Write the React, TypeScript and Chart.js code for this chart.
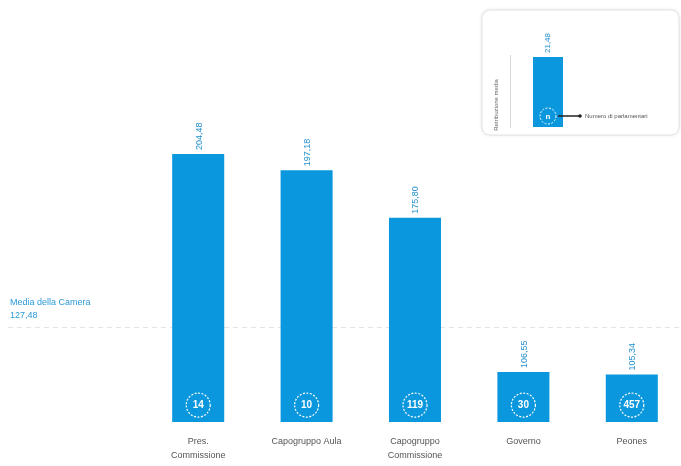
import React, { useEffect, useRef } from "react";
import { Chart, registerables } from "chart.js";

Chart.register(...registerables);

const categories: string[][] = [
  ["Pres.", "Commissione"],
  ["Capogruppo Aula"],
  ["Capogruppo", "Commissione"],
  ["Governo"],
  ["Peones"],
];
const values: number[] = [204.48, 197.18, 175.8, 106.55, 105.34];
const counts: number[] = [14, 10, 119, 30, 457];
const meanValue = 127.48;
const meanLabel = ["Media della Camera", "127,48"];
const legendTexts = { axis: "Retribuzione media", value: "21,48", count: "n", countText: "Numero di parlamentari" };

const BLUE = "#0a97dd";
const FONT = "'Liberation Sans', Arial, sans-serif";

const fmt = (v: number) => v.toFixed(2).replace(".", ",");

const overlay = {
  id: "overlay",
  beforeDatasetsDraw(chart: any) {
    const ctx = chart.ctx;
    const y = chart.scales.y;
    const area = chart.chartArea;
    ctx.save();
    const my = Math.round(y.getPixelForValue(meanValue)) + 2;
    ctx.strokeStyle = "rgba(205,205,205,0.55)";
    ctx.lineWidth = 1;
    ctx.setLineDash([5, 4]);
    ctx.beginPath();
    ctx.moveTo(8, my + 0.5);
    ctx.lineTo(area.right, my + 0.5);
    ctx.stroke();
    ctx.setLineDash([]);
    ctx.fillStyle = "#2a9ad8";
    ctx.font = "9px " + FONT;
    ctx.textAlign = "left";
    ctx.textBaseline = "alphabetic";
    ctx.fillText(meanLabel[0], 10, my - 22);
    ctx.fillText(meanLabel[1], 10, my - 9);
    ctx.restore();
  },
  afterDatasetsDraw(chart: any) {
    const ctx = chart.ctx;
    const meta = chart.getDatasetMeta(0);
    const y = chart.scales.y;
    const basePx = y.getPixelForValue(y.min);
    ctx.save();
    meta.data.forEach((bar: any, i: number) => {
      ctx.save();
      ctx.translate(bar.x + 1, bar.y - 4);
      ctx.rotate(-Math.PI / 2);
      ctx.fillStyle = "#1f8fcf";
      ctx.font = "9px " + FONT;
      ctx.textAlign = "left";
      ctx.textBaseline = "middle";
      ctx.fillText(fmt(values[i]), 0, 0);
      ctx.restore();
      const cy = basePx - 17;
      ctx.strokeStyle = "#ffffff";
      ctx.lineWidth = 1.2;
      ctx.setLineDash([2, 1.5]);
      ctx.beginPath();
      ctx.arc(bar.x, cy, 12, 0, Math.PI * 2);
      ctx.stroke();
      ctx.setLineDash([]);
      ctx.fillStyle = "#ffffff";
      ctx.font = "bold 10px " + FONT;
      ctx.textAlign = "center";
      ctx.textBaseline = "middle";
      ctx.fillText(String(counts[i]), bar.x, cy + 0.5);
    });

    // legend box
    const bx = 482, by = 10, bw = 197, bh = 125;
    ctx.shadowColor = "rgba(0,0,0,0.12)";
    ctx.shadowBlur = 4;
    ctx.fillStyle = "#ffffff";
    ctx.beginPath();
    (ctx as any).roundRect(bx, by, bw, bh, 8);
    ctx.fill();
    ctx.shadowBlur = 0;
    ctx.shadowColor = "transparent";
    ctx.strokeStyle = "#e2e2e2";
    ctx.lineWidth = 1;
    ctx.stroke();
    ctx.strokeStyle = "#d8d8d8";
    ctx.beginPath();
    ctx.moveTo(510.5, 55);
    ctx.lineTo(510.5, 128);
    ctx.stroke();
    ctx.save();
    ctx.translate(496, 105);
    ctx.rotate(-Math.PI / 2);
    ctx.fillStyle = "#666";
    ctx.font = "6px " + FONT;
    ctx.textAlign = "center";
    ctx.textBaseline = "middle";
    ctx.fillText(legendTexts.axis, 0, 0);
    ctx.restore();
    ctx.fillStyle = BLUE;
    ctx.fillRect(533, 57, 30, 70);
    ctx.save();
    ctx.translate(548, 53);
    ctx.rotate(-Math.PI / 2);
    ctx.fillStyle = "#1f8fcf";
    ctx.font = "8px " + FONT;
    ctx.textAlign = "left";
    ctx.textBaseline = "middle";
    ctx.fillText(legendTexts.value, 0, 0);
    ctx.restore();
    ctx.strokeStyle = "#ffffff";
    ctx.setLineDash([2, 1.5]);
    ctx.beginPath();
    ctx.arc(548, 116, 8, 0, Math.PI * 2);
    ctx.stroke();
    ctx.setLineDash([]);
    ctx.fillStyle = "#ffffff";
    ctx.font = "bold 8px " + FONT;
    ctx.textAlign = "center";
    ctx.textBaseline = "middle";
    ctx.fillText(legendTexts.count, 548, 116.5);
    ctx.strokeStyle = "#222";
    ctx.lineWidth = 1.5;
    ctx.beginPath();
    ctx.moveTo(558, 116);
    ctx.lineTo(580, 116);
    ctx.stroke();
    ctx.fillStyle = "#222";
    ctx.beginPath();
    ctx.arc(580, 116, 1.8, 0, Math.PI * 2);
    ctx.fill();
    ctx.fillStyle = "#555";
    ctx.font = "6px " + FONT;
    ctx.textAlign = "left";
    ctx.fillText(legendTexts.countText, 585, 116.5);
    ctx.restore();
  },
};

export default function App() {
  const ref = useRef<HTMLCanvasElement>(null);
  useEffect(() => {
    if (!ref.current) return;
    const chart = new Chart(ref.current, {
      type: "bar",
      data: {
        labels: categories,
        datasets: [
          {
            data: values,
            backgroundColor: BLUE,
            barPercentage: 0.48,
            categoryPercentage: 1,
          },
        ],
      },
      options: {
        animation: false,
        responsive: false,
        layout: { padding: { left: 144, right: 14, top: 37, bottom: 0 } },
        plugins: { legend: { display: false }, tooltip: { enabled: false } },
        scales: {
          x: {
            grid: { display: false },
            border: { display: false },
            ticks: {
              color: "#555",
              font: { size: 9, family: FONT, lineHeight: 1.55 },
              padding: 4,
              maxRotation: 0,
              autoSkip: false,
            },
          },
          y: {
            display: false,
            min: 84,
            max: 257,
          },
        },
      },
      plugins: [overlay],
    });
    return () => chart.destroy();
  }, []);
  return (
    <div style={{ position: "absolute", left: 0, top: 0, width: 700, height: 466, background: "#fff" }}>
      <canvas ref={ref} width={700} height={466} style={{ display: "block" }} />
    </div>
  );
}
